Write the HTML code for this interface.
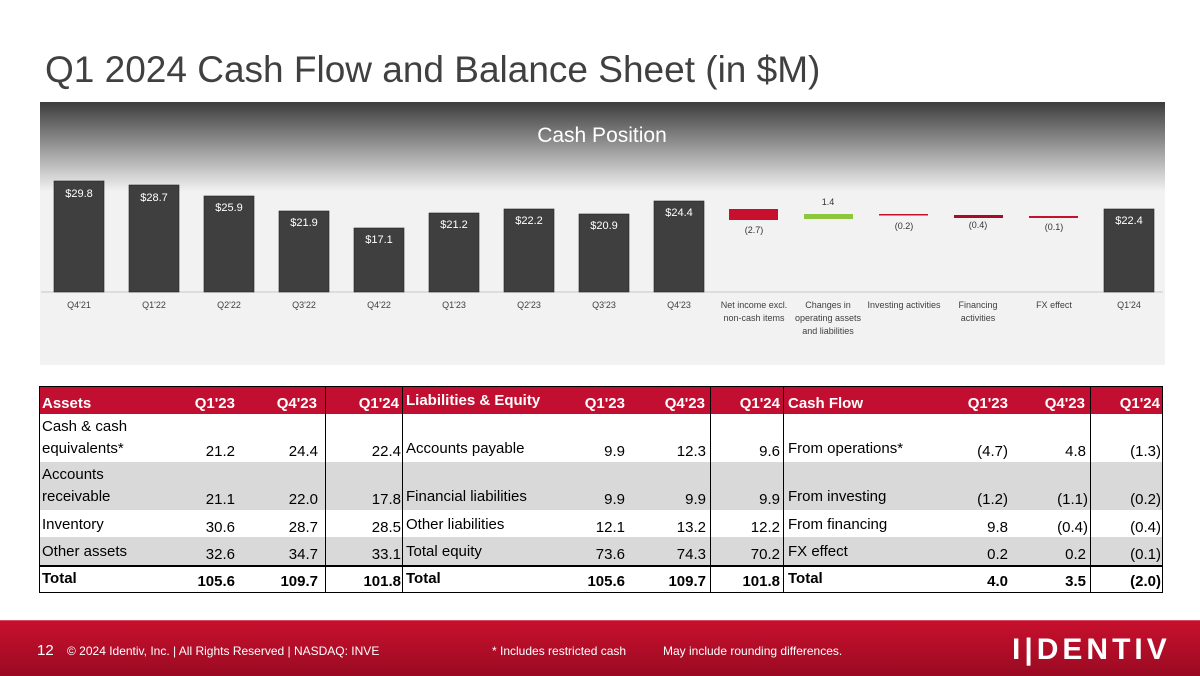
<!DOCTYPE html>
<html><head><meta charset="utf-8"><style>
*{margin:0;padding:0;box-sizing:border-box}
body{width:1200px;height:676px;background:#fff;position:relative;overflow:hidden;font-family:"Liberation Sans",sans-serif}
.title{position:absolute;left:45px;top:49px;font-size:37px;color:#404040;white-space:nowrap}
.chart{position:absolute;left:40px;top:102px}
.cell{position:absolute;font-size:15px;color:#000;white-space:nowrap;line-height:18px}
.r{text-align:right}
.hd{color:#fff;font-weight:bold}
.b{font-weight:bold}
.footer{position:absolute;left:0;top:620px;width:1200px;height:56px;background:linear-gradient(#c8102e,#9a0a22);border-top:1px solid #d84a60}
.ft{position:absolute;color:#fff;font-size:12px;top:23px;white-space:nowrap}
</style></head><body>
<div class="title">Q1 2024 Cash Flow and Balance Sheet (in $M)</div>
<svg class="chart" width="1125" height="263" viewBox="40 102 1125 263" xmlns="http://www.w3.org/2000/svg" font-family="Liberation Sans, sans-serif">
<defs><linearGradient id="g" x1="0" y1="0" x2="0" y2="1"><stop offset="0" stop-color="#3c3c3c"/><stop offset="0.34" stop-color="#f2f2f2"/><stop offset="1" stop-color="#f2f2f2"/></linearGradient></defs>
<rect x="40" y="102" width="1125" height="263" fill="url(#g)"/>
<text x="602" y="142" font-size="21" fill="#fff" text-anchor="middle">Cash Position</text>
<line x1="41" y1="292" x2="1163" y2="292" stroke="#c8c8c8" stroke-width="1"/>
<g fill="#3f3f3f" stroke="#222" stroke-width="0.6">
<rect x="54" y="181" width="50" height="111"/>
<rect x="129" y="185" width="50" height="107"/>
<rect x="204" y="196" width="50" height="96"/>
<rect x="279" y="211" width="50" height="81"/>
<rect x="354" y="228" width="50" height="64"/>
<rect x="429" y="213" width="50" height="79"/>
<rect x="504" y="209" width="50" height="83"/>
<rect x="579" y="214" width="50" height="78"/>
<rect x="654" y="201" width="50" height="91"/>
<rect x="1104" y="209" width="50" height="83"/>
</g>
<rect x="729" y="209" width="49" height="11" fill="#c8102e"/>
<rect x="804" y="214" width="49" height="5" fill="#8dc63f"/>
<rect x="879" y="214" width="49" height="1.5" fill="#c8102e"/>
<rect x="954" y="215" width="49" height="3" fill="#a50c28"/>
<rect x="1029" y="216" width="49" height="2" fill="#c8102e"/>
<g font-size="11" fill="#fff" text-anchor="middle">
<text x="79" y="197">$29.8</text><text x="154" y="201">$28.7</text><text x="229" y="211">$25.9</text>
<text x="304" y="226">$21.9</text><text x="379" y="243">$17.1</text><text x="454" y="228">$21.2</text>
<text x="529" y="224">$22.2</text><text x="604" y="229">$20.9</text><text x="679" y="216">$24.4</text>
<text x="1129" y="224">$22.4</text></g>
<g font-size="9" fill="#333" text-anchor="middle">
<text x="754" y="233">(2.7)</text><text x="828" y="205">1.4</text><text x="904" y="229">(0.2)</text>
<text x="978" y="228">(0.4)</text><text x="1054" y="230">(0.1)</text></g>
<g font-size="9" fill="#404040" text-anchor="middle">
<text x="79" y="308">Q4'21</text><text x="154" y="308">Q1'22</text><text x="229" y="308">Q2'22</text>
<text x="304" y="308">Q3'22</text><text x="379" y="308">Q4'22</text><text x="454" y="308">Q1'23</text>
<text x="529" y="308">Q2'23</text><text x="604" y="308">Q3'23</text><text x="679" y="308">Q4'23</text>
<text x="754" y="308">Net income excl.</text><text x="754" y="321">non-cash items</text>
<text x="828" y="308">Changes in</text><text x="828" y="321">operating assets</text><text x="828" y="334">and liabilities</text>
<text x="904" y="308">Investing activities</text>
<text x="978" y="308">Financing</text><text x="978" y="321">activities</text>
<text x="1054" y="308">FX effect</text><text x="1129" y="308">Q1'24</text></g>
</svg>

<div style="position:absolute;left:39px;top:386px;width:1124px;height:28px;background:#c20e30"></div>
<div style="position:absolute;left:39px;top:462px;width:1124px;height:48px;background:#d9d9d9"></div>
<div style="position:absolute;left:39px;top:537px;width:1124px;height:28px;background:#d9d9d9"></div>
<div style="position:absolute;left:39px;top:386px;width:1124px;height:207px;border:1px solid #000"></div>
<div style="position:absolute;left:39px;top:565px;width:1124px;height:2px;background:#000"></div>
<div style="position:absolute;left:325px;top:386px;width:1px;height:207px;background:#000"></div>
<div style="position:absolute;left:402px;top:386px;width:1px;height:207px;background:#000"></div>
<div style="position:absolute;left:710px;top:386px;width:1px;height:207px;background:#000"></div>
<div style="position:absolute;left:783px;top:386px;width:1px;height:207px;background:#000"></div>
<div style="position:absolute;left:1090px;top:386px;width:1px;height:207px;background:#000"></div>

<div class="cell hd" style="left:42px;top:395px">Assets</div>
<div class="cell hd r" style="left:150px;width:85px;top:395px">Q1'23</div>
<div class="cell hd r" style="left:230px;width:87px;top:395px">Q4'23</div>
<div class="cell hd r" style="left:310px;width:89px;top:395px">Q1'24</div>
<div class="cell hd" style="left:406px;top:392px">Liabilities &amp; Equity</div>
<div class="cell hd r" style="left:540px;width:85px;top:395px">Q1'23</div>
<div class="cell hd r" style="left:620px;width:85px;top:395px">Q4'23</div>
<div class="cell hd r" style="left:690px;width:90px;top:395px">Q1'24</div>
<div class="cell hd" style="left:788px;top:395px">Cash Flow</div>
<div class="cell hd r" style="left:920px;width:88px;top:395px">Q1'23</div>
<div class="cell hd r" style="left:1000px;width:85px;top:395px">Q4'23</div>
<div class="cell hd r" style="left:1070px;width:90px;top:395px">Q1'24</div>

<div class="cell" style="left:42px;top:418px">Cash &amp; cash</div>
<div class="cell" style="left:42px;top:440px">equivalents*</div>
<div class="cell" style="left:42px;top:466px">Accounts</div>
<div class="cell" style="left:42px;top:488px">receivable</div>
<div class="cell" style="left:42px;top:516px">Inventory</div>
<div class="cell" style="left:42px;top:543px">Other assets</div>
<div class="cell b" style="left:42px;top:570px">Total</div>

<div class="cell" style="left:406px;top:440px">Accounts payable</div>
<div class="cell" style="left:406px;top:488px">Financial liabilities</div>
<div class="cell" style="left:406px;top:516px">Other liabilities</div>
<div class="cell" style="left:406px;top:543px">Total equity</div>
<div class="cell b" style="left:406px;top:570px">Total</div>

<div class="cell" style="left:788px;top:440px">From operations*</div>
<div class="cell" style="left:788px;top:488px">From investing</div>
<div class="cell" style="left:788px;top:516px">From financing</div>
<div class="cell" style="left:788px;top:543px">FX effect</div>
<div class="cell b" style="left:788px;top:570px">Total</div>

<div class="cell r" style="left:150px;width:85px;top:443px">21.2</div><div class="cell r" style="left:230px;width:88px;top:443px">24.4</div><div class="cell r" style="left:310px;width:91px;top:443px">22.4</div>
<div class="cell r" style="left:150px;width:85px;top:491px">21.1</div><div class="cell r" style="left:230px;width:88px;top:491px">22.0</div><div class="cell r" style="left:310px;width:91px;top:491px">17.8</div>
<div class="cell r" style="left:150px;width:85px;top:519px">30.6</div><div class="cell r" style="left:230px;width:88px;top:519px">28.7</div><div class="cell r" style="left:310px;width:91px;top:519px">28.5</div>
<div class="cell r" style="left:150px;width:85px;top:546px">32.6</div><div class="cell r" style="left:230px;width:88px;top:546px">34.7</div><div class="cell r" style="left:310px;width:91px;top:546px">33.1</div>
<div class="cell r b" style="left:150px;width:85px;top:573px">105.6</div><div class="cell r b" style="left:230px;width:88px;top:573px">109.7</div><div class="cell r b" style="left:310px;width:91px;top:573px">101.8</div>

<div class="cell r" style="left:540px;width:85px;top:443px">9.9</div><div class="cell r" style="left:620px;width:86px;top:443px">12.3</div><div class="cell r" style="left:690px;width:90px;top:443px">9.6</div>
<div class="cell r" style="left:540px;width:85px;top:491px">9.9</div><div class="cell r" style="left:620px;width:86px;top:491px">9.9</div><div class="cell r" style="left:690px;width:90px;top:491px">9.9</div>
<div class="cell r" style="left:540px;width:85px;top:519px">12.1</div><div class="cell r" style="left:620px;width:86px;top:519px">13.2</div><div class="cell r" style="left:690px;width:90px;top:519px">12.2</div>
<div class="cell r" style="left:540px;width:85px;top:546px">73.6</div><div class="cell r" style="left:620px;width:86px;top:546px">74.3</div><div class="cell r" style="left:690px;width:90px;top:546px">70.2</div>
<div class="cell r b" style="left:540px;width:85px;top:573px">105.6</div><div class="cell r b" style="left:620px;width:86px;top:573px">109.7</div><div class="cell r b" style="left:690px;width:90px;top:573px">101.8</div>

<div class="cell r" style="left:920px;width:88px;top:443px">(4.7)</div><div class="cell r" style="left:1000px;width:86px;top:443px">4.8</div><div class="cell r" style="left:1070px;width:91px;top:443px">(1.3)</div>
<div class="cell r" style="left:920px;width:88px;top:491px">(1.2)</div><div class="cell r" style="left:1000px;width:88px;top:491px">(1.1)</div><div class="cell r" style="left:1070px;width:91px;top:491px">(0.2)</div>
<div class="cell r" style="left:920px;width:88px;top:519px">9.8</div><div class="cell r" style="left:1000px;width:88px;top:519px">(0.4)</div><div class="cell r" style="left:1070px;width:91px;top:519px">(0.4)</div>
<div class="cell r" style="left:920px;width:88px;top:546px">0.2</div><div class="cell r" style="left:1000px;width:86px;top:546px">0.2</div><div class="cell r" style="left:1070px;width:91px;top:546px">(0.1)</div>
<div class="cell r b" style="left:920px;width:88px;top:573px">4.0</div><div class="cell r b" style="left:1000px;width:86px;top:573px">3.5</div><div class="cell r b" style="left:1070px;width:91px;top:573px">(2.0)</div>

<div class="footer">
<div class="ft" style="left:37px;font-size:15px;top:21px">12</div>
<div class="ft" style="left:67px">© 2024 Identiv, Inc.  |  All Rights Reserved  |  NASDAQ: INVE</div>
<div class="ft" style="left:492px">*  Includes restricted cash</div>
<div class="ft" style="left:663px">May include rounding differences.</div>
<div class="ft" style="left:1012px;top:12px;font-size:30px;font-weight:bold;letter-spacing:4px">I|DENTIV</div>
</div>
</body></html>
